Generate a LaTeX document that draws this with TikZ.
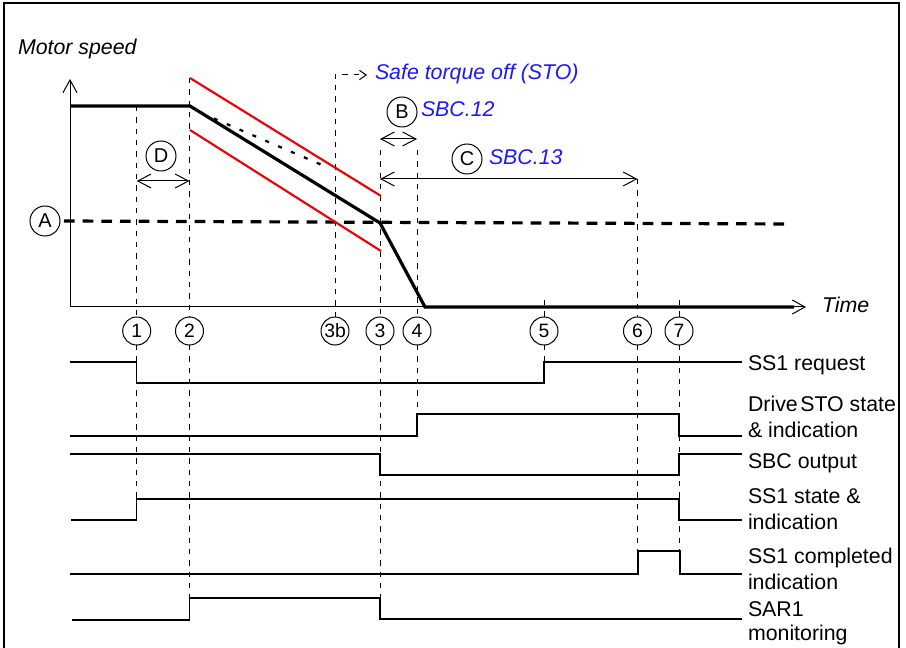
\documentclass[tikz,border=0pt]{standalone}
\usepackage{fontspec}
\setmainfont{Liberation Sans}
\usetikzlibrary{arrows.meta}
\definecolor{stoblue}{RGB}{25,25,255}
\definecolor{limred}{RGB}{240,0,0}
\begin{document}
\begin{tikzpicture}[x=0.75pt,y=-0.75pt,
  every node/.style={inner sep=0pt, outer sep=0pt},
  txt/.style={font=\fontsize{16}{19}\selectfont, anchor=base west},
  itxt/.style={font=\fontsize{16}{19}\selectfont\itshape, anchor=base west},
  btxt/.style={itxt, text=stoblue},
  numcirc/.style={circle, draw, line width=0.75pt, minimum size=21pt, font=\fontsize{14.5}{16}\selectfont},
  letcirc/.style={circle, draw, line width=0.75pt, minimum size=22.5pt, font=\fontsize{15}{17}\selectfont},
  vdash/.style={line width=0.75pt, dash pattern=on 4pt off 4.5pt},
  sig/.style={line width=0.9pt},
  axisarrow/.style={line width=0.75pt, -{Straight Barb[length=9.5pt,width=10.5pt,line width=0.75pt]}},
  dimarrow/.style={line width=0.75pt, {Straight Barb[length=10pt,width=10.5pt,line width=0.75pt]}-{Straight Barb[length=10pt,width=10.5pt,line width=0.75pt]}},
  speed/.style={line width=2.4pt, line join=miter},
  limit/.style={line width=1.6pt, draw=limred},
]
\useasboundingbox (0,0) rectangle (906,648);
% frame
\draw[line width=1.1pt] (4,650) -- (4,3) -- (899,3) -- (899,650);

% labels top
\node[itxt] (lmotor) at (18,55) {Motor speed};
\node[itxt] (ltime) at (822,313) {Time};
\node[btxt] (lsto) at (375,80) {Safe torque off (STO)};
\node[btxt] (lsbc12) at (421,117) {SBC.12};
\node[btxt] (lsbc13) at (489,165) {SBC.13};

% circles with letters
\node[letcirc] (cA) at (45,221) {A};
\node[letcirc] (cB) at (402,112) {B};
\node[letcirc] (cC) at (467,159) {C};
\node[letcirc] (cD) at (161,156) {D};

% number circles
\node[numcirc] (c1) at (136.7,331) {1};
\node[numcirc] (c2) at (189.5,331) {2};
\node[numcirc] (c3b) at (335,331) {3b};
\node[numcirc] (c3) at (380,331) {3};
\node[numcirc] (c4) at (417,331) {4};
\node[numcirc] (c5) at (544,331) {5};
\node[numcirc] (c6) at (637.5,331) {6};
\node[numcirc] (c7) at (679,331) {7};

% vertical dashed lines, upper part
\draw[vdash] (136.7,106) -- (c1.north);
\draw[vdash] (189.5,78) -- (c2.north);
\draw[vdash, -{Straight Barb[length=5pt,width=7pt,line width=0.75pt]}] (c3b.north) -- (335,75) -- (367,75);
\draw[vdash] (380,150) -- (c3.north);
\draw[vdash] (417,150) -- (c4.north);
\draw[vdash] (544,300) -- (c5.north);
\draw[vdash] (637.5,179) -- (c6.north);
\draw[vdash] (679,300) -- (c7.north);

% vertical dashed lines, lower part
\draw[vdash] (c1.south) -- (136.7,499);
\draw[vdash] (c2.south) -- (189.5,598);
\draw[vdash] (c3.south) -- (380,598);
\draw[vdash] (c4.south) -- (417,414);
\draw[vdash] (c5.south) -- (544,362);
\draw[vdash] (c6.south) -- (637.5,551);
\draw[vdash] (c7.south) -- (679,551);

% axes
\draw[axisarrow] (70,307) -- (70,79);
\draw[axisarrow] (70,307) -- (806,307);

% threshold A
\draw[line width=2.4pt, dash pattern=on 8pt off 6pt] (cA.east) ++(4,0) coordinate (athr) -- (788,224);

% limits
\draw[limit] (190,78) -- (381,196);
\draw[limit] (190,130) -- (381,251);
% dotted
\draw[line width=1.7pt, dash pattern=on 3pt off 7.5pt] (201,113) -- (322,165);
% speed curve
\draw[speed] (70,106) -- (190,106) -- (380,223) -- (425,307) -- (794,307);

% dimension arrows
\draw[dimarrow] (136.7,181) -- (189.5,181);
\draw[dimarrow] (380,139) -- (417,139);
\draw[dimarrow] (380,179) -- (637.5,179);

% signals
\draw[sig] (70,362) -- (136.7,362) -- (136.7,383) -- (544,383) -- (544,362) -- (742,362);
\draw[sig] (70,436) -- (417,436) -- (417,414) -- (679,414) -- (679,436) -- (742,436);
\draw[sig] (70,454) -- (380,454) -- (380,475) -- (679,475) -- (679,454) -- (742,454);
\draw[sig] (71,520) -- (136.7,520) -- (136.7,499) -- (679,499) -- (679,520) -- (742,520);
\draw[sig] (70,574) -- (638,574) -- (638,551) -- (680,551) -- (680,574) -- (742,574);
\draw[sig] (72,620) -- (189.5,620) -- (189.5,598) -- (380,598) -- (380,619) -- (742,619);

% signal labels
\node[txt] (s1) at (748,370) {SS1 request};
\node[txt] (s2a) at (748,411) {Drive\hspace{0.12em}STO state};
\node[txt] (s2b) at (748,437) {\& indication};
\node[txt] (s3) at (748,468) {SBC output};
\node[txt] (s4a) at (748,503) {SS1 state \&};
\node[txt] (s4b) at (748,529) {indication};
\node[txt] (s5a) at (748,563) {SS1 completed};
\node[txt] (s5b) at (748,589) {indication};
\node[txt] (s6a) at (748,616) {SAR1};
\node[txt] (s6b) at (748,640) {monitoring};
\end{tikzpicture}
\end{document}
